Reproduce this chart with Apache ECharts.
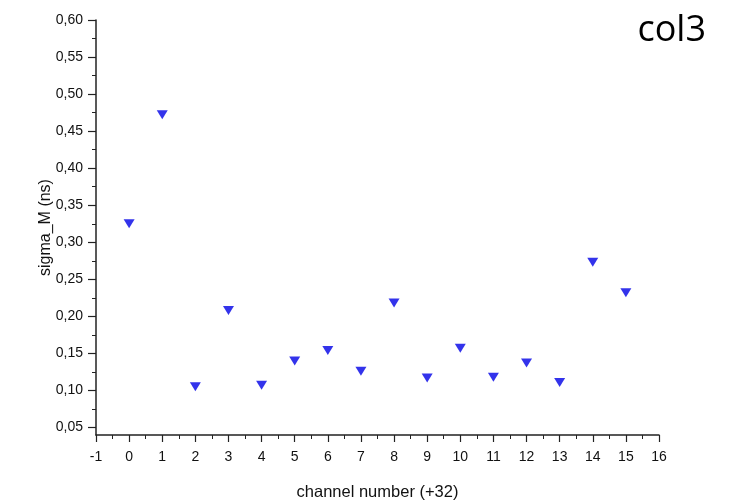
<!DOCTYPE html>
<html>
<head>
<meta charset="utf-8">
<script src="https://cdn.jsdelivr.net/npm/echarts@6/dist/echarts.min.js"></script>
<style>html,body{margin:0;padding:0;background:#fff}#c{width:730px;height:502px}</style>
</head>
<body>
<div id="c"></div>
<script>
const channels = [0,1,2,3,4,5,6,7,8,9,10,11,12,13,14,15];
const sigmaM = [0.325,0.472,0.105,0.208,0.107,0.140,0.154,0.126,0.218,0.117,0.157,0.118,0.137,0.111,0.273,0.232];
const yTicks = [0.05,0.10,0.15,0.20,0.25,0.30,0.35,0.40,0.45,0.50,0.55,0.60];
const yMinorTicks = [0.075,0.125,0.175,0.225,0.275,0.325,0.375,0.425,0.475,0.525,0.575];
const titleText = 'col3';
const xName = 'channel number (+32)';
const yName = 'sigma_M (ns)';

const font = 'Liberation Sans, Arial, sans-serif';
const chart = echarts.init(document.getElementById('c'), null, {renderer:'canvas'});
chart.setOption({
  animation:false,
  backgroundColor:'#fff',
  title:{text:titleText,right:19,top:8,textStyle:{fontFamily:'Open Sans, Lato, sans-serif',fontSize:36,fontWeight:'normal',color:'#000'}},
  grid:{left:96,right:71,top:20,bottom:67,containLabel:false,outerBoundsMode:'none'},
  xAxis:{
    type:'value',min:-1,max:16,interval:1,
    name:xName,nameLocation:'middle',nameGap:49,nameMoveOverlap:false,
    nameTextStyle:{fontFamily:font,fontSize:16.5,color:'#111'},
    axisLine:{show:true,onZero:false,lineStyle:{color:'#222',width:1.5}},
    axisTick:{show:true,inside:false,length:7,lineStyle:{color:'#222',width:1.2}},
    minorTick:{show:true,splitNumber:2,length:4,lineStyle:{color:'#222',width:1}},
    axisLabel:{fontFamily:font,fontSize:14,color:'#111',margin:15},
    splitLine:{show:false}
  },
  yAxis:[{
    type:'value',min:0.04,max:0.60,
    name:yName,nameLocation:'middle',nameGap:42,nameRotate:90,nameMoveOverlap:false,
    nameTextStyle:{fontFamily:font,fontSize:16,color:'#111'},
    axisLine:{show:true,onZero:false,lineStyle:{color:'#222',width:1.5}},
    axisTick:{show:true,inside:false,length:8,lineStyle:{color:'#222',width:1.2},customValues:yTicks},
    axisLabel:{fontFamily:font,fontSize:14,color:'#111',margin:13,customValues:yTicks,
      formatter:v=>v.toFixed(2).replace('.',',')},
    splitLine:{show:false}
  },{
    type:'value',min:0.04,max:0.60,position:'left',
    axisLine:{show:false,onZero:false},
    axisTick:{show:true,inside:false,length:4,lineStyle:{color:'#222',width:1},customValues:yMinorTicks},
    axisLabel:{show:false},
    splitLine:{show:false}
  }],
  series:[{
    type:'scatter',
    yAxisIndex:0,
    data:channels.map((c,i)=>[c,sigmaM[i]]),
    symbol:'triangle',symbolRotate:180,symbolSize:[11,9],
    itemStyle:{color:'#0000e6'}
  }]
});
</script>
</body>
</html>
